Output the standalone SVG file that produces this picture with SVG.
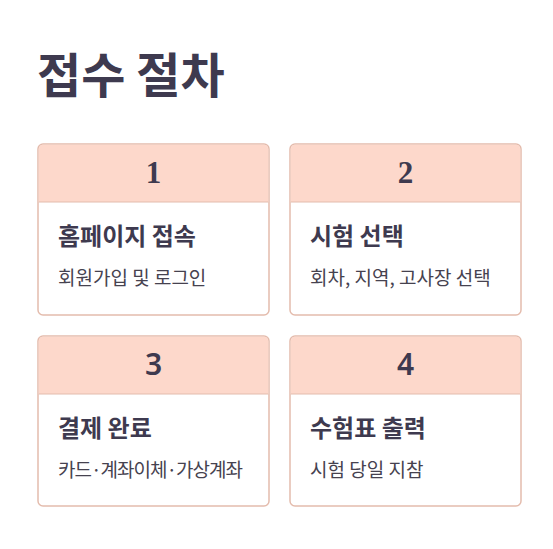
<svg xmlns="http://www.w3.org/2000/svg" width="553" height="549" viewBox="0 0 553 549">
<style>
.bg{fill:#ffffff}
.card{fill:#ffffff;stroke:#e4bcad;stroke-width:1.5}
.head{fill:#fdd8cb}
.sep{stroke:#e4bcad;stroke-width:1.2}
.h1{font-family:"Noto Sans CJK KR","Noto Sans",sans-serif;font-weight:700;font-size:48px;fill:#3e3a4f}
.num{font-family:"Liberation Serif","DejaVu Serif",serif;font-weight:700;font-size:31px;fill:#3e3a4f;text-anchor:middle}
.nums{font-family:"Noto Sans","Noto Sans CJK KR",sans-serif;font-weight:600;font-size:30px;fill:#3e3a4f;text-anchor:middle}
.t{font-family:"Noto Sans CJK KR","Noto Sans",sans-serif;font-weight:700;font-size:24px;fill:#3e3a4f}
.s{font-family:"Noto Sans CJK KR","Noto Sans",sans-serif;font-weight:400;font-size:19px;fill:#46424f}
</style>
<rect class="bg" x="0" y="0" width="553" height="549"/>
<text class="h1" x="37" y="93">접수 절차</text>
<g id="step1">
<rect class="card" x="38" y="144" width="231" height="171" rx="5"/>
<path class="head" d="M43,144.75 H264 A4.25,4.25 0 0 1 268.25,149 V202 H38.75 V149 A4.25,4.25 0 0 1 43,144.75 Z"/>
<line class="sep" x1="38.75" y1="202" x2="268.25" y2="202"/>
<text class="num" x="153.5" y="183">1</text>
<text class="t" x="58" y="245">홈페이지 접속</text>
<text class="s" x="58" y="285">회원가입 및 로그인</text>
</g>
<g id="step2">
<rect class="card" x="290" y="144" width="231" height="171" rx="5"/>
<path class="head" d="M295,144.75 H516 A4.25,4.25 0 0 1 520.25,149 V202 H290.75 V149 A4.25,4.25 0 0 1 295,144.75 Z"/>
<line class="sep" x1="290.75" y1="202" x2="520.25" y2="202"/>
<text class="num" x="405.5" y="183">2</text>
<text class="t" x="310" y="245">시험 선택</text>
<text class="s" x="310" y="285">회차, 지역, 고사장 선택</text>
</g>
<g id="step3">
<rect class="card" x="38" y="336" width="231" height="170" rx="5"/>
<path class="head" d="M43,336.75 H264 A4.25,4.25 0 0 1 268.25,341 V394 H38.75 V341 A4.25,4.25 0 0 1 43,336.75 Z"/>
<line class="sep" x1="38.75" y1="394" x2="268.25" y2="394"/>
<text class="nums" x="153.5" y="375">3</text>
<text class="t" x="58" y="437">결제 완료</text>
<text class="s" x="58" y="477" textLength="185" lengthAdjust="spacing">카드·계좌이체·가상계좌</text>
</g>
<g id="step4">
<rect class="card" x="290" y="336" width="231" height="170" rx="5"/>
<path class="head" d="M295,336.75 H516 A4.25,4.25 0 0 1 520.25,341 V394 H290.75 V341 A4.25,4.25 0 0 1 295,336.75 Z"/>
<line class="sep" x1="290.75" y1="394" x2="520.25" y2="394"/>
<text class="nums" x="405.5" y="375">4</text>
<text class="t" x="310" y="437">수험표 출력</text>
<text class="s" x="310" y="477">시험 당일 지참</text>
</g>
<g id="connectors"></g>
</svg>
